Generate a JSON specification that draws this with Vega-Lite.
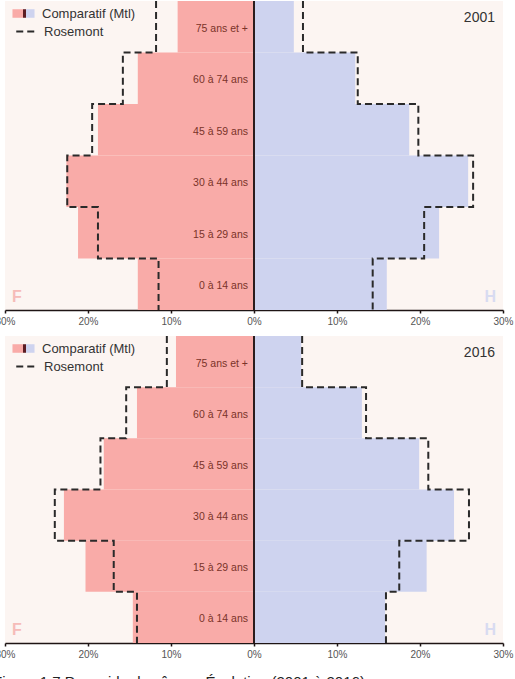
{
  "$schema": "https://vega.github.io/schema/vega-lite/v6.json",
  "padding": {"left": -7, "top": -3, "right": 0, "bottom": 0},
  "datasets": {
    "pyr": [
      {"annee": 2001, "age": "75 ans et +", "k": 0, "sexe": "F", "serie": "Comparatif (Mtl)", "pct": -9.2},
      {"annee": 2001, "age": "60 à 74 ans", "k": 1, "sexe": "F", "serie": "Comparatif (Mtl)", "pct": -14.0},
      {"annee": 2001, "age": "45 à 59 ans", "k": 2, "sexe": "F", "serie": "Comparatif (Mtl)", "pct": -18.8},
      {"annee": 2001, "age": "30 à 44 ans", "k": 3, "sexe": "F", "serie": "Comparatif (Mtl)", "pct": -22.6},
      {"annee": 2001, "age": "15 à 29 ans", "k": 4, "sexe": "F", "serie": "Comparatif (Mtl)", "pct": -21.2},
      {"annee": 2001, "age": "0 à 14 ans", "k": 5, "sexe": "F", "serie": "Comparatif (Mtl)", "pct": -14.0},
      {"annee": 2001, "age": "75 ans et +", "k": 0, "sexe": "H", "serie": "Comparatif (Mtl)", "pct": 4.8},
      {"annee": 2001, "age": "60 à 74 ans", "k": 1, "sexe": "H", "serie": "Comparatif (Mtl)", "pct": 12.2},
      {"annee": 2001, "age": "45 à 59 ans", "k": 2, "sexe": "H", "serie": "Comparatif (Mtl)", "pct": 18.7},
      {"annee": 2001, "age": "30 à 44 ans", "k": 3, "sexe": "H", "serie": "Comparatif (Mtl)", "pct": 25.8},
      {"annee": 2001, "age": "15 à 29 ans", "k": 4, "sexe": "H", "serie": "Comparatif (Mtl)", "pct": 22.3},
      {"annee": 2001, "age": "0 à 14 ans", "k": 5, "sexe": "H", "serie": "Comparatif (Mtl)", "pct": 16.0},
      {"annee": 2001, "age": "75 ans et +", "k": 0, "sexe": "F", "serie": "Rosemont", "pct": -11.8},
      {"annee": 2001, "age": "60 à 74 ans", "k": 1, "sexe": "F", "serie": "Rosemont", "pct": -15.8},
      {"annee": 2001, "age": "45 à 59 ans", "k": 2, "sexe": "F", "serie": "Rosemont", "pct": -19.5},
      {"annee": 2001, "age": "30 à 44 ans", "k": 3, "sexe": "F", "serie": "Rosemont", "pct": -22.5},
      {"annee": 2001, "age": "15 à 29 ans", "k": 4, "sexe": "F", "serie": "Rosemont", "pct": -18.8},
      {"annee": 2001, "age": "0 à 14 ans", "k": 5, "sexe": "F", "serie": "Rosemont", "pct": -11.5},
      {"annee": 2001, "age": null, "k": 6, "sexe": "F", "serie": "Rosemont", "pct": -11.5},
      {"annee": 2001, "age": "75 ans et +", "k": 0, "sexe": "H", "serie": "Rosemont", "pct": 5.9},
      {"annee": 2001, "age": "60 à 74 ans", "k": 1, "sexe": "H", "serie": "Rosemont", "pct": 12.5},
      {"annee": 2001, "age": "45 à 59 ans", "k": 2, "sexe": "H", "serie": "Rosemont", "pct": 19.8},
      {"annee": 2001, "age": "30 à 44 ans", "k": 3, "sexe": "H", "serie": "Rosemont", "pct": 26.4},
      {"annee": 2001, "age": "15 à 29 ans", "k": 4, "sexe": "H", "serie": "Rosemont", "pct": 20.5},
      {"annee": 2001, "age": "0 à 14 ans", "k": 5, "sexe": "H", "serie": "Rosemont", "pct": 14.3},
      {"annee": 2001, "age": null, "k": 6, "sexe": "H", "serie": "Rosemont", "pct": 14.3},
      {"annee": 2016, "age": "75 ans et +", "k": 0, "sexe": "F", "serie": "Comparatif (Mtl)", "pct": -9.4},
      {"annee": 2016, "age": "60 à 74 ans", "k": 1, "sexe": "F", "serie": "Comparatif (Mtl)", "pct": -14.1},
      {"annee": 2016, "age": "45 à 59 ans", "k": 2, "sexe": "F", "serie": "Comparatif (Mtl)", "pct": -18.1},
      {"annee": 2016, "age": "30 à 44 ans", "k": 3, "sexe": "F", "serie": "Comparatif (Mtl)", "pct": -22.9},
      {"annee": 2016, "age": "15 à 29 ans", "k": 4, "sexe": "F", "serie": "Comparatif (Mtl)", "pct": -20.3},
      {"annee": 2016, "age": "0 à 14 ans", "k": 5, "sexe": "F", "serie": "Comparatif (Mtl)", "pct": -14.6},
      {"annee": 2016, "age": "75 ans et +", "k": 0, "sexe": "H", "serie": "Comparatif (Mtl)", "pct": 5.7},
      {"annee": 2016, "age": "60 à 74 ans", "k": 1, "sexe": "H", "serie": "Comparatif (Mtl)", "pct": 13.0},
      {"annee": 2016, "age": "45 à 59 ans", "k": 2, "sexe": "H", "serie": "Comparatif (Mtl)", "pct": 19.9},
      {"annee": 2016, "age": "30 à 44 ans", "k": 3, "sexe": "H", "serie": "Comparatif (Mtl)", "pct": 24.1},
      {"annee": 2016, "age": "15 à 29 ans", "k": 4, "sexe": "H", "serie": "Comparatif (Mtl)", "pct": 20.8},
      {"annee": 2016, "age": "0 à 14 ans", "k": 5, "sexe": "H", "serie": "Comparatif (Mtl)", "pct": 15.8},
      {"annee": 2016, "age": "75 ans et +", "k": 0, "sexe": "F", "serie": "Rosemont", "pct": -10.5},
      {"annee": 2016, "age": "60 à 74 ans", "k": 1, "sexe": "F", "serie": "Rosemont", "pct": -15.4},
      {"annee": 2016, "age": "45 à 59 ans", "k": 2, "sexe": "F", "serie": "Rosemont", "pct": -18.5},
      {"annee": 2016, "age": "30 à 44 ans", "k": 3, "sexe": "F", "serie": "Rosemont", "pct": -24.0},
      {"annee": 2016, "age": "15 à 29 ans", "k": 4, "sexe": "F", "serie": "Rosemont", "pct": -16.9},
      {"annee": 2016, "age": "0 à 14 ans", "k": 5, "sexe": "F", "serie": "Rosemont", "pct": -14.1},
      {"annee": 2016, "age": null, "k": 6, "sexe": "F", "serie": "Rosemont", "pct": -14.1},
      {"annee": 2016, "age": "75 ans et +", "k": 0, "sexe": "H", "serie": "Rosemont", "pct": 5.8},
      {"annee": 2016, "age": "60 à 74 ans", "k": 1, "sexe": "H", "serie": "Rosemont", "pct": 13.5},
      {"annee": 2016, "age": "45 à 59 ans", "k": 2, "sexe": "H", "serie": "Rosemont", "pct": 21.0},
      {"annee": 2016, "age": "30 à 44 ans", "k": 3, "sexe": "H", "serie": "Rosemont", "pct": 25.9},
      {"annee": 2016, "age": "15 à 29 ans", "k": 4, "sexe": "H", "serie": "Rosemont", "pct": 17.5},
      {"annee": 2016, "age": "0 à 14 ans", "k": 5, "sexe": "H", "serie": "Rosemont", "pct": 15.9},
      {"annee": 2016, "age": null, "k": 6, "sexe": "H", "serie": "Rosemont", "pct": 15.9}
    ]
  },
  "data": {"name": "pyr"},
  "title": {"text": "Figure 1.7 Pyramide des âges : Évolution (2001 à 2016)", "orient": "bottom", "anchor": "start", "frame": "group", "offset": 16, "dx": -12, "fontSize": 15, "fontWeight": "normal", "color": "#222"},
  "spacing": 26,
  "bounds": "flush",
  "resolve": {"scale": {"strokeDash": "independent", "opacity": "independent", "y": "independent"}, "legend": {"strokeDash": "independent", "opacity": "independent"}},
  "vconcat": [
    {
      "width": 498, "height": 309,
      "transform": [{"filter": "datum.annee == 2001"}],
      "resolve": {"scale": {"y": "independent"}},
      "layer": [
        {
          "layer": [
            {
              "mark": {"type": "bar", "stroke": null},
              "transform": [{"filter": "datum.serie == 'Comparatif (Mtl)'"}],
              "encoding": {
                "y": {"field": "age", "type": "nominal", "scale": {"domain": ["75 ans et +", "60 à 74 ans", "45 à 59 ans", "30 à 44 ans", "15 à 29 ans", "0 à 14 ans"], "paddingInner": 0, "paddingOuter": 0}, "axis": null},
                "x": {"field": "pct", "type": "quantitative", "scale": {"domain": [-30, 30], "nice": false},
                  "axis": {"values": [-30, -20, -10, 0, 10, 20, 30], "labelExpr": "abs(datum.value) + '%'", "title": null, "grid": false, "domainColor": "#1e1414", "domainWidth": 1.5, "tickColor": "#1e1414", "tickSize": 3, "tickWidth": 1.5, "labelFontSize": 10, "labelColor": "#555", "labelFlush": false, "labelOverlap": false, "labelPadding": 3}},
                "color": {"field": "sexe", "type": "nominal", "scale": {"domain": ["F", "H"], "range": ["#f9aba8", "#ced3ef"]}, "legend": null},
                "opacity": {"field": "serie", "type": "nominal", "scale": {"domain": ["Comparatif (Mtl)"], "range": [1]},
                  "legend": {"orient": "none", "legendX": 11, "legendY": 5, "title": null, "padding": 0, "labelFontSize": 13, "labelColor": "#333", "labelOffset": 11,
                    "symbolType": "M-1.47,-0.57H1.47V0.57H-1.47Z", "symbolSize": 225, "symbolOpacity": 1, "symbolStrokeColor": "transparent", "symbolStrokeWidth": 0,
                    "symbolFillColor": {"value": {"gradient": "linear", "x1": 0, "y1": 0, "x2": 1, "y2": 0, "stops": [{"offset": 0, "color": "#f9aba8"}, {"offset": 0.48, "color": "#f9aba8"}, {"offset": 0.48, "color": "#5b1c22"}, {"offset": 0.62, "color": "#5b1c22"}, {"offset": 0.62, "color": "#ced3ef"}, {"offset": 1, "color": "#ced3ef"}]}}}}
              }
            },
            {
              "mark": {"type": "text", "align": "right", "baseline": "middle", "dx": -6, "dy": 2, "fontSize": 10.5, "color": "#7a3329"},
              "transform": [{"filter": "datum.serie == 'Comparatif (Mtl)' && datum.sexe == 'F'"}],
              "encoding": {
                "y": {"field": "age", "type": "nominal"},
                "x": {"datum": 0},
                "text": {"field": "age"}
              }
            },
            {
              "mark": {"type": "rule", "color": "#2b1d1d", "strokeWidth": 1.8},
              "encoding": {"x": {"datum": 0}}
            },
            {
              "data": {"values": [{"lettre": "F"}]},
              "mark": {"type": "text", "align": "left", "baseline": "alphabetic", "dx": 7, "dy": 18, "fontSize": 16, "fontWeight": "bold", "color": "#f6bcb9"},
              "encoding": {"x": {"datum": -30}, "y": {"datum": "0 à 14 ans"}, "text": {"field": "lettre"}}
            },
            {
              "data": {"values": [{"lettre": "H"}]},
              "mark": {"type": "text", "align": "right", "baseline": "alphabetic", "dx": -7, "dy": 18, "fontSize": 16, "fontWeight": "bold", "color": "#d8dbf1"},
              "encoding": {"x": {"datum": 30}, "y": {"datum": "0 à 14 ans"}, "text": {"field": "lettre"}}
            },
            {
              "data": {"values": [{"an": "2001"}]},
              "mark": {"type": "text", "align": "right", "baseline": "alphabetic", "dx": -8, "dy": -5, "fontSize": 14, "color": "#333"},
              "encoding": {"x": {"datum": 30}, "y": {"datum": "75 ans et +"}, "text": {"field": "an"}}
            }
          ]
        },
        {
          "mark": {"type": "line", "interpolate": "step-before", "strokeWidth": 2, "color": "#2a2a2a", "strokeCap": "butt"},
          "transform": [{"filter": "datum.serie == 'Rosemont'"}],
          "encoding": {
            "y": {"field": "k", "type": "quantitative", "scale": {"domain": [0, 6], "reverse": true, "nice": false, "zero": false}, "axis": null},
            "x": {"field": "pct", "type": "quantitative"},
            "order": {"field": "k"},
            "detail": {"field": "sexe"},
            "strokeDash": {"field": "serie", "type": "nominal", "scale": {"domain": ["Rosemont"], "range": [[7, 4]]},
              "legend": {"orient": "none", "legendX": 11, "legendY": 22, "title": null, "padding": 0, "labelFontSize": 13, "labelColor": "#333", "labelOffset": 11,
                "symbolType": "M-1.1,0H1.4", "symbolSize": 225, "symbolStrokeColor": "#2a2a2a", "symbolStrokeWidth": 2, "symbolOpacity": 1}}
          }
        }
      ]
    },
    {
      "width": 498, "height": 307,
      "transform": [{"filter": "datum.annee == 2016"}],
      "resolve": {"scale": {"y": "independent"}},
      "layer": [
        {
          "layer": [
            {
              "mark": {"type": "bar", "stroke": null},
              "transform": [{"filter": "datum.serie == 'Comparatif (Mtl)'"}],
              "encoding": {
                "y": {"field": "age", "type": "nominal", "scale": {"domain": ["75 ans et +", "60 à 74 ans", "45 à 59 ans", "30 à 44 ans", "15 à 29 ans", "0 à 14 ans"], "paddingInner": 0, "paddingOuter": 0}, "axis": null},
                "x": {"field": "pct", "type": "quantitative", "scale": {"domain": [-30, 30], "nice": false},
                  "axis": {"values": [-30, -20, -10, 0, 10, 20, 30], "labelExpr": "abs(datum.value) + '%'", "title": null, "grid": false, "domainColor": "#1e1414", "domainWidth": 1.5, "tickColor": "#1e1414", "tickSize": 3, "tickWidth": 1.5, "labelFontSize": 10, "labelColor": "#555", "labelFlush": false, "labelOverlap": false, "labelPadding": 3}},
                "color": {"field": "sexe", "type": "nominal", "scale": {"domain": ["F", "H"], "range": ["#f9aba8", "#ced3ef"]}, "legend": null},
                "opacity": {"field": "serie", "type": "nominal", "scale": {"domain": ["Comparatif (Mtl)"], "range": [1]},
                  "legend": {"orient": "none", "legendX": 11, "legendY": 5, "title": null, "padding": 0, "labelFontSize": 13, "labelColor": "#333", "labelOffset": 11,
                    "symbolType": "M-1.47,-0.57H1.47V0.57H-1.47Z", "symbolSize": 225, "symbolOpacity": 1, "symbolStrokeColor": "transparent", "symbolStrokeWidth": 0,
                    "symbolFillColor": {"value": {"gradient": "linear", "x1": 0, "y1": 0, "x2": 1, "y2": 0, "stops": [{"offset": 0, "color": "#f9aba8"}, {"offset": 0.48, "color": "#f9aba8"}, {"offset": 0.48, "color": "#5b1c22"}, {"offset": 0.62, "color": "#5b1c22"}, {"offset": 0.62, "color": "#ced3ef"}, {"offset": 1, "color": "#ced3ef"}]}}}}
              }
            },
            {
              "mark": {"type": "text", "align": "right", "baseline": "middle", "dx": -6, "dy": 2, "fontSize": 10.5, "color": "#7a3329"},
              "transform": [{"filter": "datum.serie == 'Comparatif (Mtl)' && datum.sexe == 'F'"}],
              "encoding": {
                "y": {"field": "age", "type": "nominal"},
                "x": {"datum": 0},
                "text": {"field": "age"}
              }
            },
            {
              "mark": {"type": "rule", "color": "#2b1d1d", "strokeWidth": 1.8},
              "encoding": {"x": {"datum": 0}}
            },
            {
              "data": {"values": [{"lettre": "F"}]},
              "mark": {"type": "text", "align": "left", "baseline": "alphabetic", "dx": 7, "dy": 18, "fontSize": 16, "fontWeight": "bold", "color": "#f6bcb9"},
              "encoding": {"x": {"datum": -30}, "y": {"datum": "0 à 14 ans"}, "text": {"field": "lettre"}}
            },
            {
              "data": {"values": [{"lettre": "H"}]},
              "mark": {"type": "text", "align": "right", "baseline": "alphabetic", "dx": -7, "dy": 18, "fontSize": 16, "fontWeight": "bold", "color": "#d8dbf1"},
              "encoding": {"x": {"datum": 30}, "y": {"datum": "0 à 14 ans"}, "text": {"field": "lettre"}}
            },
            {
              "data": {"values": [{"an": "2016"}]},
              "mark": {"type": "text", "align": "right", "baseline": "alphabetic", "dx": -8, "dy": -5, "fontSize": 14, "color": "#333"},
              "encoding": {"x": {"datum": 30}, "y": {"datum": "75 ans et +"}, "text": {"field": "an"}}
            }
          ]
        },
        {
          "mark": {"type": "line", "interpolate": "step-before", "strokeWidth": 2, "color": "#2a2a2a", "strokeCap": "butt"},
          "transform": [{"filter": "datum.serie == 'Rosemont'"}],
          "encoding": {
            "y": {"field": "k", "type": "quantitative", "scale": {"domain": [0, 6], "reverse": true, "nice": false, "zero": false}, "axis": null},
            "x": {"field": "pct", "type": "quantitative"},
            "order": {"field": "k"},
            "detail": {"field": "sexe"},
            "strokeDash": {"field": "serie", "type": "nominal", "scale": {"domain": ["Rosemont"], "range": [[7, 4]]},
              "legend": {"orient": "none", "legendX": 11, "legendY": 22, "title": null, "padding": 0, "labelFontSize": 13, "labelColor": "#333", "labelOffset": 11,
                "symbolType": "M-1.1,0H1.4", "symbolSize": 225, "symbolStrokeColor": "#2a2a2a", "symbolStrokeWidth": 2, "symbolOpacity": 1}}
          }
        }
      ]
    }
  ],
  "config": {
    "font": "Liberation Sans",
    "view": {"fill": "#fcf5f2", "stroke": null}
  }
}
